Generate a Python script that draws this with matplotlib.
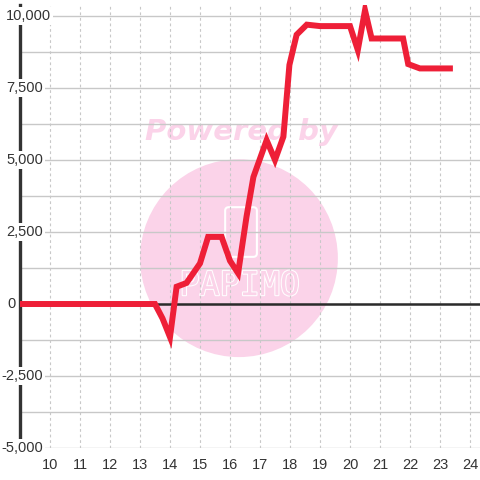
import matplotlib
matplotlib.use("Agg")
import matplotlib.pyplot as plt
import matplotlib.patheffects as pe
from matplotlib.patches import Ellipse, FancyBboxPatch
from matplotlib.ticker import MultipleLocator

# data
hours = [9.0, 13.5, 13.75, 14.0, 14.22, 14.55, 15.0, 15.27, 15.72, 16.0, 16.27,
         16.55, 16.78, 17.22, 17.5, 17.78, 17.98, 18.22, 18.56, 19.0, 20.0,
         20.26, 20.5, 20.72, 21.77, 21.94, 22.33, 23.33]
values = [0, 0, -500, -1150, 600, 730, 1410, 2330, 2330, 1500, 1070,
          3030, 4410, 5690, 5000, 5810, 8300, 9350, 9700, 9650, 9650,
          8820, 10200, 9220, 9220, 8330, 8180, 8180]

xticks = list(range(10, 25))
yticks = [-5000, -2500, 0, 2500, 5000, 7500, 10000]
ylabels = ["-5,000", "-2,500", "0", "2,500", "5,000", "7,500", "10,000"]

RED = "#ee1f37"
PINK = "#fbd3e9"
TXT = "#333333"
GRID = "#c8c8c8"

plt.rcParams["font.family"] = ["Liberation Sans", "DejaVu Sans"]

fig = plt.figure(figsize=(4.8, 4.8), dpi=100)
ax = fig.add_axes([20 / 480, 32 / 480, 460 / 480, 443.5 / 480])
ax.set_xlim(9, 24.333)
ax.set_ylim(-5000, 10400)
ax.set_axisbelow(True)

# watermark behind the grid
ax.add_patch(Ellipse((0.476, 0.428), 0.430, 0.446, transform=ax.transAxes,
                     color=PINK, lw=0, zorder=0.1))
ax.text(0.482, 0.712, "Powered by", transform=ax.transAxes, ha="center",
        va="center", fontsize=21, fontweight="bold", fontstyle="italic",
        family="DejaVu Sans", color=PINK, zorder=0.2)
ax.add_patch(FancyBboxPatch((0.446, 0.431), 0.069, 0.112,
                            boxstyle="round,pad=0,rounding_size=0.008",
                            transform=ax.transAxes, fill=False, ec="white",
                            lw=1.5, zorder=0.2))
ax.text(0.478, 0.366, "PAPIMO", transform=ax.transAxes, ha="center",
        va="center", fontsize=24, family="DejaVu Sans Mono", color=PINK,
        zorder=0.2,
        path_effects=[pe.withStroke(linewidth=1.5, foreground="white")])

# grid
ax.set_xticks(xticks)
ax.set_yticks(yticks)
ax.yaxis.set_minor_locator(MultipleLocator(1250))
ax.grid(axis="x", which="major", color=GRID, lw=0.8, ls=(0, (2.5, 2.5)))
ax.grid(axis="y", which="both", color=GRID, lw=1)
ax.tick_params(axis="both", which="both", length=0)
ax.tick_params(axis="x", labelsize=10.5, labelcolor=TXT, pad=7)
ax.set_yticklabels([])

for s in ["top", "right", "bottom"]:
    ax.spines[s].set_visible(False)
ax.spines["left"].set_color(TXT)
ax.spines["left"].set_linewidth(2.4)

ax.axhline(0, color="#2b2b2b", lw=1.8, zorder=1.5)
ax.plot(hours, values, color=RED, lw=4.3, solid_joinstyle="miter", zorder=3)

# y labels sit over the axis line with a white box
for v, lab in zip(yticks, ylabels):
    if lab == "10,000":
        off, ha = -14, "left"
    elif lab == "0":
        off, ha = -4, "right"
    else:
        off, ha = 23, "right"
    ax.annotate(lab, xy=(0, v), xycoords=("axes fraction", "data"),
                xytext=(off * 0.72, 0), textcoords="offset points",
                ha=ha, va="center", fontsize=10.5, color=TXT, zorder=4,
                bbox=dict(boxstyle="square,pad=0.12", fc="white", ec="none"),
                annotation_clip=False)

fig.savefig("out.png", dpi=100)
